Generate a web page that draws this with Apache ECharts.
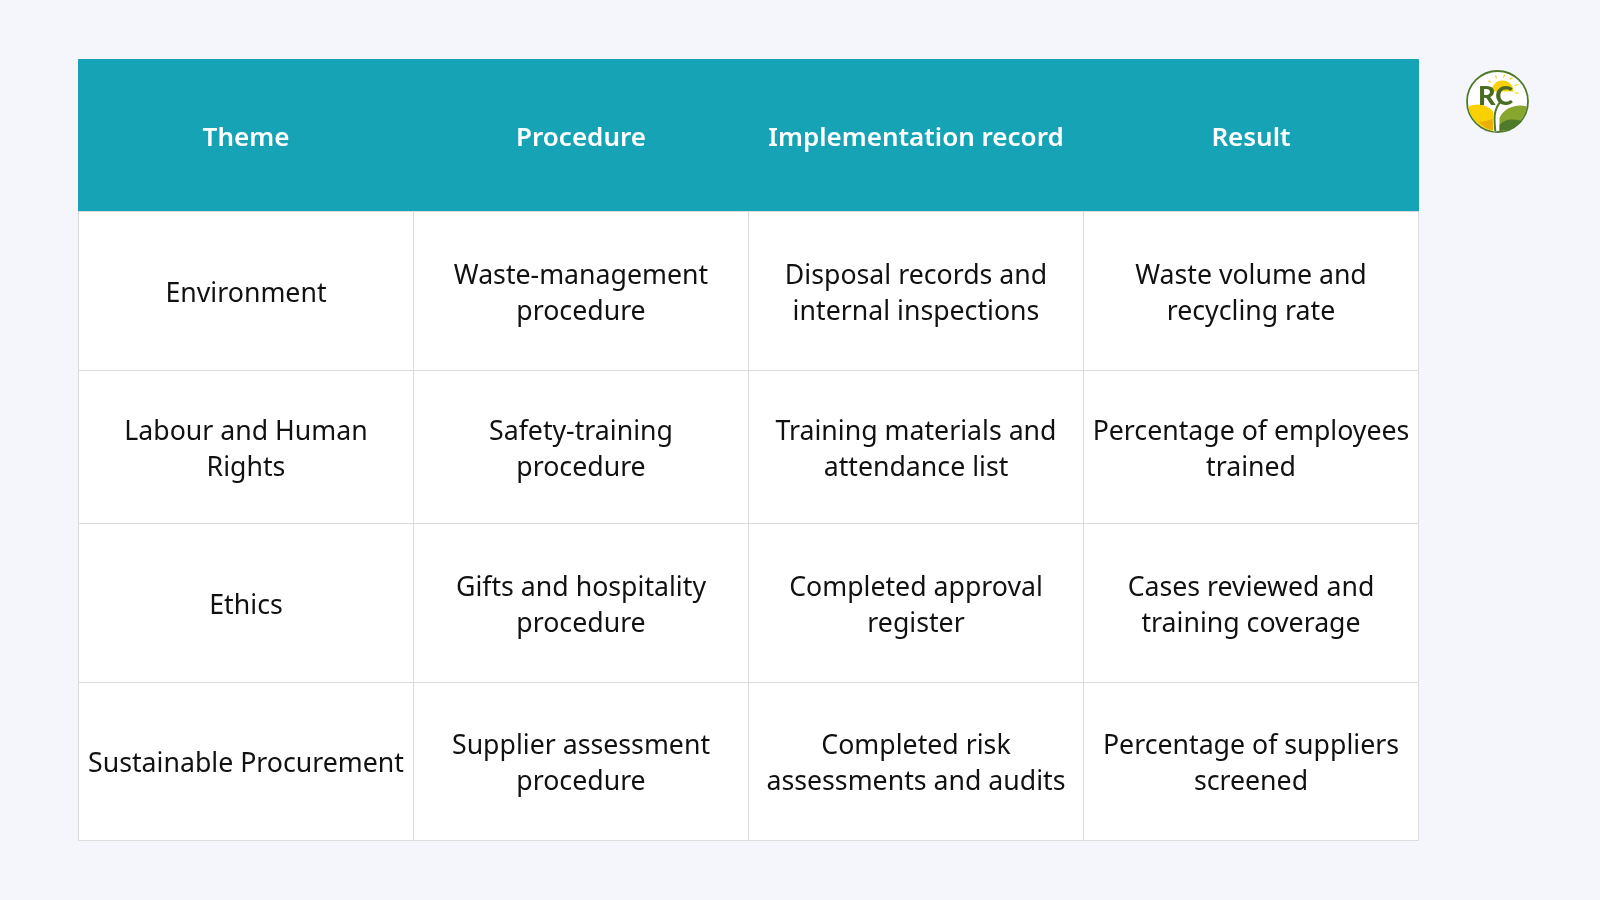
<!DOCTYPE html>
<html>
<head>
<meta charset="utf-8">
<title>Table</title>
<style>
html, body {margin: 0; padding: 0; background: #f4f6fb;}
#chartWrap {width: 1600px; height: 900px;}
</style>
<script src="https://cdn.jsdelivr.net/npm/echarts@6/dist/echarts.min.js"></script>
</head>
<body>
<div id="chartWrap"></div>
<script>
const headers = ['Theme', 'Procedure', 'Implementation record', 'Result'];
const themes = ['Environment', 'Labour and Human\nRights', 'Ethics', 'Sustainable Procurement'];
const procedures = ['Waste-management\nprocedure', 'Safety-training\nprocedure', 'Gifts and hospitality\nprocedure', 'Supplier assessment\nprocedure'];
const records = ['Disposal records and\ninternal inspections', 'Training materials and\nattendance list', 'Completed approval\nregister', 'Completed risk\nassessments and audits'];
const results = ['Waste volume and\nrecycling rate', 'Percentage of employees\ntrained', 'Cases reviewed and\ntraining coverage', 'Percentage of suppliers\nscreened'];

const myChart = echarts.init(document.getElementById('chartWrap'));
const font = '"Noto Sans", sans-serif';
const teal = '#15a3b5';
const lineColor = '#dcdcdc';
const rowSizes = [152, 159, 153, 159, 158];
const lineHeight = 36;

// rich text sits at the top of the cell, an empty first line centres it
function richText(text) {
    return '{gap| }\n' + text.split('\n').map(function (line) {
        return '{t|' + line + '}';
    }).join('\n');
}

function cellLabel(text, row, textStyle) {
    const lines = text.split('\n').length;
    const space = rowSizes[row] / 2 - lines * lineHeight / 2 + 1;
    return {
        overflow: 'none',
        rich: {
            gap: {fontSize: 6, lineHeight: space},
            t: Object.assign({fontFamily: font, lineHeight: lineHeight}, textStyle)
        }
    };
}

const headStyle = {color: '#fff', fontSize: 26, fontWeight: 600};
const bodyStyle = {color: '#111', fontSize: 26.7};

// row 0 is the teal head, the other rows come from the columns
let cells = [];
headers.forEach(function (text, i) {
    cells.push({
        coord: [i, 0],
        value: richText(text),
        z2: 10,
        label: cellLabel(text, 0, headStyle),
        itemStyle: {color: teal, borderColor: teal, borderWidth: 1}
    });
});
[themes, procedures, records, results].forEach(function (col, i) {
    col.forEach(function (text, j) {
        cells.push({coord: [i, j + 1], value: richText(text), label: cellLabel(text, j + 1, bodyStyle)});
    });
});

function logoPath(d, x, y, w, h, style) {
    return {type: 'path', shape: {pathData: d, x: x, y: y, width: w, height: h, layout: 'cover'}, style: style};
}

// the logo beside the table
function renderLogo() {
    return {
        type: 'group',
        x: 1497.5,
        y: 101.5,
        children: [
            {type: 'circle', shape: {cx: 0, cy: 0, r: 30.5}, style: {fill: '#fff', stroke: '#4f7a2a', lineWidth: 1.8}},
            logoPath('M-6 -10 A11 11 0 0 1 16 -10 Z', -6, -21, 22, 11, {fill: '#fbd20a'}),
            logoPath('M-7 -19 L-9 -21 M-1 -23 L-2 -26 M6 -24 L7 -27 M12 -22 L15 -24 M17 -16 L21 -17 M17 -9 L21 -8', -9, -27, 30, 19, {fill: 'none', stroke: '#fbd20a', lineWidth: 1.2}),
            logoPath('M-29.5 6 C-20 1 -6 4 -2 15 L-1 29.5 A30 30 0 0 1 -29.5 6 Z', -29.5, 3, 28.5, 26.5, {fill: '#f9d000'}),
            logoPath('M-19 20 C-12 21 -7 18 -3 16 L-2 29 C-9 29 -14 25 -19 20 Z', -19, 16, 17, 13, {fill: '#ecae0a'}),
            logoPath('M2 17 C6 8 18 3 29.5 6 A30 30 0 0 1 2 29.5 Z', 2, 4, 27.5, 25.5, {fill: '#86a62e'}),
            logoPath('M2 23 C10 15 18 18 25 19 A30 30 0 0 1 2 29.5 Z', 2, 18, 23, 11.5, {fill: '#4f7a2a'}),
            logoPath('M-1 30 C-2 18 -3 8 4 -1', -3, -1, 7, 31, {fill: 'none', stroke: '#fff', lineWidth: 3.5}),
            logoPath('M-1 30 C-2 18 -3 8 4 -1', -3, -1, 7, 31, {fill: 'none', stroke: '#4f7a2a', lineWidth: 2}),
            {type: 'text', x: -2, y: -5, style: {text: 'RC', fontFamily: 'Lato, sans-serif', fontWeight: 900, fontSize: 27, fill: '#4a6b23', align: 'center', verticalAlign: 'middle'}}
        ]
    };
}

myChart.setOption({
    backgroundColor: '#f4f6fb',
    animation: false,
    matrix: {
        left: 78,
        top: 59,
        width: 1340,
        height: 781,
        backgroundStyle: {color: 'transparent', borderWidth: 0},
        x: {show: false, data: headers},
        y: {
            show: false,
            data: ['head'].concat(themes).map(function (name, i) {
                return {value: name, size: rowSizes[i]};
            })
        },
        body: {
            data: cells,
            itemStyle: {color: '#fff', borderColor: lineColor, borderWidth: 1}
        }
    },
    series: [{
        type: 'custom',
        coordinateSystem: 'none',
        silent: true,
        data: [0],
        renderItem: renderLogo
    }]
});
</script>
</body>
</html>
